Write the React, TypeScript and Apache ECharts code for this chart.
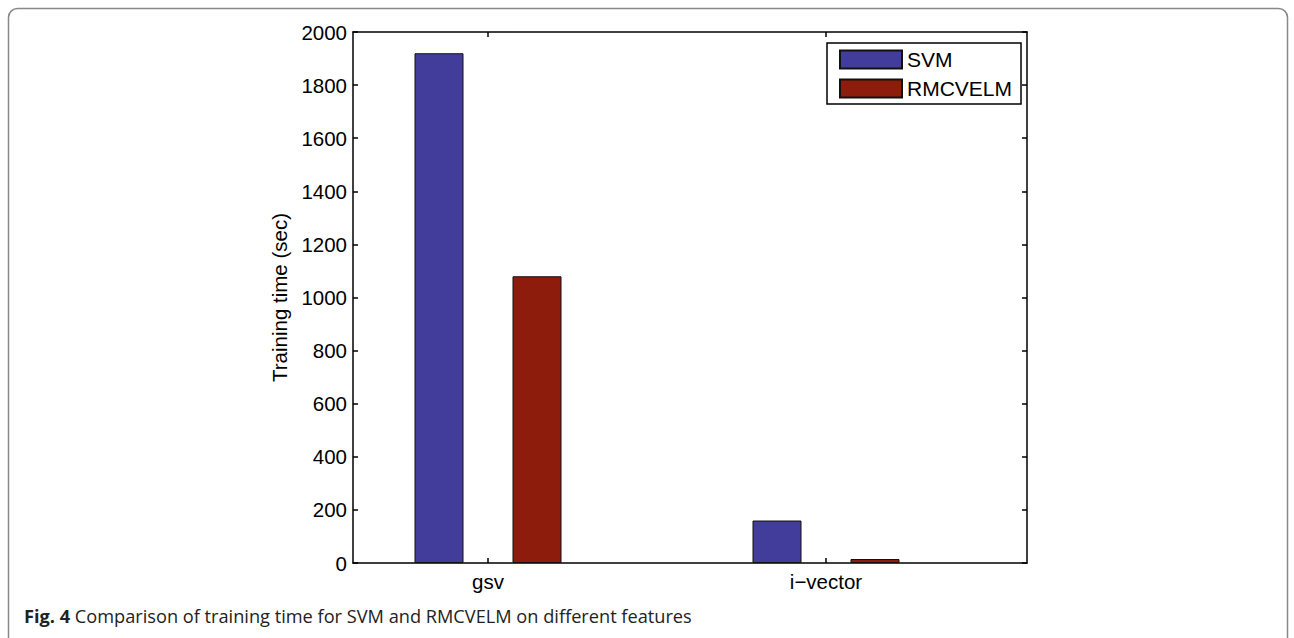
import React, { useEffect, useRef } from "react";
import * as echarts from "echarts";

const categories = ["gsv", "i\u2212vector"];
const svmValues = [1920, 160];
const rmcvelmValues = [1080, 15];
const seriesNames = ["SVM", "RMCVELM"];
const yMin = 0;
const yMax = 2000;
const yInterval = 200;

const FONT = "'Liberation Sans', Arial, Helvetica, sans-serif";
const CAPTION_FONT = "'Open Sans', 'Noto Sans', sans-serif";

export default function App() {
  const ref = useRef<HTMLDivElement>(null);
  useEffect(() => {
    if (!ref.current) return;
    const chart = echarts.init(ref.current, undefined, { renderer: "svg" });
    const axisLineStyle = { color: "#000", width: 1.5 };
    const option: any = {
      animation: false,
      backgroundColor: "#fff",
      textStyle: { fontFamily: FONT },
      grid: [
        { left: 353, right: 267, top: 32, bottom: 75 },
        { left: 319, width: 676, top: 32, bottom: 75 },
      ],
      xAxis: [
        {
          type: "value", gridIndex: 0, min: 0.6, max: 2.6, position: "bottom",
          axisLine: { show: true, onZero: false, lineStyle: axisLineStyle },
          axisTick: { show: false }, axisLabel: { show: false }, splitLine: { show: false },
        },
        {
          type: "value", gridIndex: 0, min: 0.6, max: 2.6, position: "top",
          axisLine: { show: true, onZero: false, lineStyle: axisLineStyle },
          axisTick: { show: false }, axisLabel: { show: false }, splitLine: { show: false },
        },
        {
          type: "category", gridIndex: 1, data: categories, position: "bottom",
          axisLine: { show: false, onZero: false },
          axisTick: { show: true, inside: true, length: 5, alignWithLabel: true, lineStyle: axisLineStyle },
          axisLabel: { color: "#000", fontSize: 20.5, fontFamily: FONT, margin: 8 },
        },
        {
          type: "category", gridIndex: 1, data: categories, position: "top",
          axisLine: { show: false, onZero: false },
          axisTick: { show: true, inside: true, length: 5, alignWithLabel: true, lineStyle: axisLineStyle },
          axisLabel: { show: false },
        },
      ],
      yAxis: [
        {
          type: "value", gridIndex: 0, min: yMin, max: yMax, interval: yInterval, position: "left",
          name: "Training time (sec)", nameLocation: "middle", nameGap: 62,
          nameTextStyle: { color: "#000", fontSize: 20.5, fontFamily: FONT },
          axisLine: { show: true, lineStyle: axisLineStyle },
          axisTick: { show: true, inside: true, length: 5, lineStyle: axisLineStyle },
          axisLabel: { color: "#000", fontSize: 20.5, fontFamily: FONT, margin: 6, formatter: (v: number) => String(v) },
          splitLine: { show: false },
        },
        {
          type: "value", gridIndex: 0, min: yMin, max: yMax, interval: yInterval, position: "right",
          axisLine: { show: true, lineStyle: axisLineStyle },
          axisTick: { show: true, inside: true, length: 5, lineStyle: axisLineStyle },
          axisLabel: { show: false }, splitLine: { show: false },
        },
        {
          type: "value", gridIndex: 1, min: yMin, max: yMax, show: false,
        },
      ],
      legend: {
        data: seriesNames,
        orient: "vertical",
        left: 827,
        top: 43,
        itemWidth: 62,
        itemHeight: 18,
        itemGap: 8,
        padding: [6, 9, 5, 12],
        borderColor: "#000",
        borderWidth: 1.5,
        backgroundColor: "#fff",
        icon: "rect",
        textStyle: { color: "#000", fontSize: 21, fontFamily: FONT, lineHeight: 18 },
      },
      series: [
        {
          name: seriesNames[0], type: "bar", xAxisIndex: 2, yAxisIndex: 2,
          data: svmValues, barWidth: 49, barGap: "100%",
          itemStyle: { color: "#423C9A", borderColor: "#111", borderWidth: 1 },
        },
        {
          name: seriesNames[1], type: "bar", xAxisIndex: 2, yAxisIndex: 2,
          data: rmcvelmValues, barWidth: 49, barGap: "100%",
          itemStyle: { color: "#8E1C0C", borderColor: "#111", borderWidth: 1 },
        },
      ],
      graphic: [
        {
          type: "rect", silent: true, z: -1,
          shape: { x: 8.5, y: 8.5, width: 1279, height: 680, r: 9 },
          style: { fill: "none", stroke: "#888", lineWidth: 1.5 },
        },
        {
          type: "text", left: 24, top: 607,
          style: {
            text: "{b|Fig. 4} Comparison of training time for SVM and RMCVELM on different features",
            fontFamily: CAPTION_FONT,
            fontSize: 18.2,
            fill: "#222",
            rich: {
              b: { fontWeight: "bold", fontFamily: CAPTION_FONT, fontSize: 18.2, fill: "#222" },
            },
          },
        },
      ],
    };
    chart.setOption(option);
    return () => chart.dispose();
  }, []);
  return <div ref={ref} style={{ width: 1294, height: 638, position: "absolute", left: 0, top: 0 }} />;
}
